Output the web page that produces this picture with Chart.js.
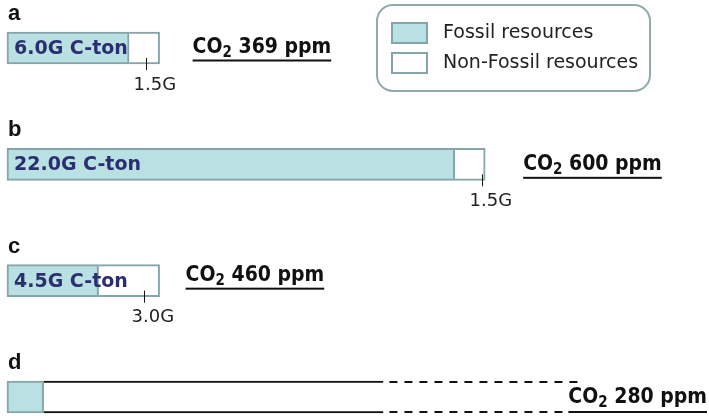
<!DOCTYPE html>
<html>
<head>
<meta charset="utf-8">
<script src="https://cdn.jsdelivr.net/npm/chart.js@4/dist/chart.umd.min.js"></script>
<style>
  html, body { margin: 0; padding: 0; background: #fff; }
  #wrap { width: 709px; height: 416px; position: relative; }
</style>
</head>
<body>
<div id="wrap"><canvas id="chart"></canvas></div>
<script>
// ---- data (G C-ton per year) ----
const panels = ['a', 'b', 'c', 'd'];
const fossil = [6.0, 22.0, 4.5, 1.8];
const nonFossil = [1.5, 1.5, 3.0, 16.7];
const projected = [0, 0, 0, 9.8];          // dashed continuation in panel d
const fossilLabels = ['6.0G C-ton', '22.0G C-ton', '4.5G C-ton', ''];
const tickLabels = ['1.5G', '1.5G', '3.0G', ''];
const tickAt = [6.85, 23.35, 6.75, null];
const co2ppm = [369, 600, 460, 280];

// ---- look ----
const FOSSIL_FILL = '#b9e0e2';
const EDGE = '#86a5a8';
const NAVY = '#2b2f6f';
const SANS = '"DejaVu Sans", Verdana, sans-serif';
const CONDENSED = '"DejaVu Sans Condensed", "DejaVu Sans", sans-serif';
const co2Gap = [33, 38, 26, null];         // px gap after the bar, null = right aligned
const co2Dy = [4.5, 5.5, 0, 6];            // baseline offset from bar centre
const underlineDy = [8, 8, 8, 9];

const overlay = {
  id: 'overlay',
  afterDatasetsDraw(chart) {
    const ctx = chart.ctx;
    const x = chart.scales.x;
    const fos = chart.getDatasetMeta(0).data;
    const non = chart.getDatasetMeta(1).data;
    const proj = chart.getDatasetMeta(2).data;
    ctx.save();

    panels.forEach((p, i) => {
      const bar = fos[i];
      const top = bar.y - bar.height / 2;
      const bottom = bar.y + bar.height / 2;

      // panel letter
      ctx.fillStyle = '#111';
      ctx.font = 'bold 22px "Liberation Sans", Arial, sans-serif';
      ctx.textAlign = 'left';
      ctx.textBaseline = 'alphabetic';
      ctx.fillText(p, 8, top - 12);

      // fossil label
      if (fossilLabels[i]) {
        ctx.fillStyle = NAVY;
        ctx.font = 'bold 19px ' + SANS;
        ctx.textBaseline = 'middle';
        ctx.fillText(fossilLabels[i], bar.base + 7, bar.y + 1);
      }

      // tick + non-fossil value
      if (tickAt[i] != null) {
        const tx = Math.round(x.getPixelForValue(tickAt[i])) + 0.5;
        ctx.strokeStyle = '#111';
        ctx.lineWidth = 1;
        ctx.beginPath();
        ctx.moveTo(tx, bottom - 6);
        ctx.lineTo(tx, bottom + 6);
        ctx.stroke();
        ctx.fillStyle = '#222';
        ctx.font = '18px ' + SANS;
        ctx.textAlign = 'left';
        ctx.textBaseline = 'middle';
        ctx.fillText(tickLabels[i], tx - 13, bottom + 21);
      }

      // dashed continuation
      const pr = proj[i];
      if (projected[i] > 0) {
        ctx.strokeStyle = '#111';
        ctx.lineWidth = 2;
        ctx.setLineDash([8, 7]);
        [top + 1, bottom - 1].forEach(yy => {
          ctx.beginPath();
          ctx.moveTo(pr.base + 6, yy);
          ctx.lineTo(pr.x, yy);
          ctx.stroke();
        });
        ctx.setLineDash([]);
      }

      // CO2 label
      const end = Math.max(non[i].x, projected[i] > 0 ? pr.x : 0);
      const big = 'bold 21px ' + CONDENSED;
      const small = 'bold 15px ' + CONDENSED;
      const rest = ' ' + co2ppm[i] + ' ppm';
      ctx.font = big;
      const wCO = ctx.measureText('CO').width;
      const wRest = ctx.measureText(rest).width;
      ctx.font = small;
      const wSub = ctx.measureText('2').width;
      const total = wCO + wSub + wRest;
      const lx = co2Gap[i] == null ? chart.width - 2 - total : end + co2Gap[i];
      const base = bar.y + co2Dy[i];
      ctx.fillStyle = '#111';
      ctx.textAlign = 'left';
      ctx.textBaseline = 'alphabetic';
      ctx.font = big;
      ctx.fillText('CO', lx, base);
      ctx.font = small;
      ctx.fillText('2', lx + wCO, base + 4);
      ctx.font = big;
      ctx.fillText(rest, lx + wCO + wSub, base);
      ctx.fillRect(lx, base + underlineDy[i] - 1, total, 2);
    });

    // legend box
    const items = [chart.data.datasets[0], chart.data.datasets[1]];
    ctx.strokeStyle = '#93abad';
    ctx.lineWidth = 2;
    ctx.beginPath();
    ctx.roundRect(377, 5, 273, 86, 16);
    ctx.stroke();
    items.forEach((ds, k) => {
      const yy = 23 + k * 30;
      ctx.fillStyle = ds.backgroundColor;
      ctx.fillRect(392, yy, 35, 20);
      ctx.strokeStyle = EDGE;
      ctx.lineWidth = 2;
      ctx.strokeRect(392, yy, 35, 20);
      ctx.fillStyle = '#222';
      ctx.font = '19px ' + SANS;
      ctx.textAlign = 'left';
      ctx.textBaseline = 'middle';
      ctx.fillText(ds.label, 443, yy + 10);
    });
    ctx.restore();
  }
};

new Chart(document.getElementById('chart'), {
  type: 'bar',
  data: {
    labels: panels,
    datasets: [
      {
        label: 'Fossil resources',
        data: fossil,
        backgroundColor: FOSSIL_FILL,
        borderColor: EDGE,
        borderWidth: 2,
        borderSkipped: false,
        clip: false
      },
      {
        label: 'Non-Fossil resources',
        data: nonFossil,
        backgroundColor: '#ffffff',
        borderColor: ctx => ctx.dataIndex === 3 ? '#111' : EDGE,
        borderWidth: ctx => ctx.dataIndex === 3
          ? { top: 2, right: 0, bottom: 2, left: 0 }
          : { top: 2, right: 2, bottom: 2, left: 0 },
        borderSkipped: false,
        clip: false
      },
      {
        label: 'Projected',
        data: projected,
        backgroundColor: 'rgba(0,0,0,0)',
        borderWidth: 0,
        clip: false
      }
    ]
  },
  options: {
    indexAxis: 'y',
    responsive: true,
    maintainAspectRatio: false,
    animation: false,
    barThickness: 32,
    layout: { padding: { left: 7, right: 0, top: 48, bottom: 19 } },
    plugins: { legend: { display: false }, tooltip: { enabled: false } },
    scales: {
      x: { stacked: true, min: 0, max: 34.5, display: false },
      y: { stacked: true, offset: false, display: false }
    }
  },
  plugins: [overlay]
});
</script>
</body>
</html>
